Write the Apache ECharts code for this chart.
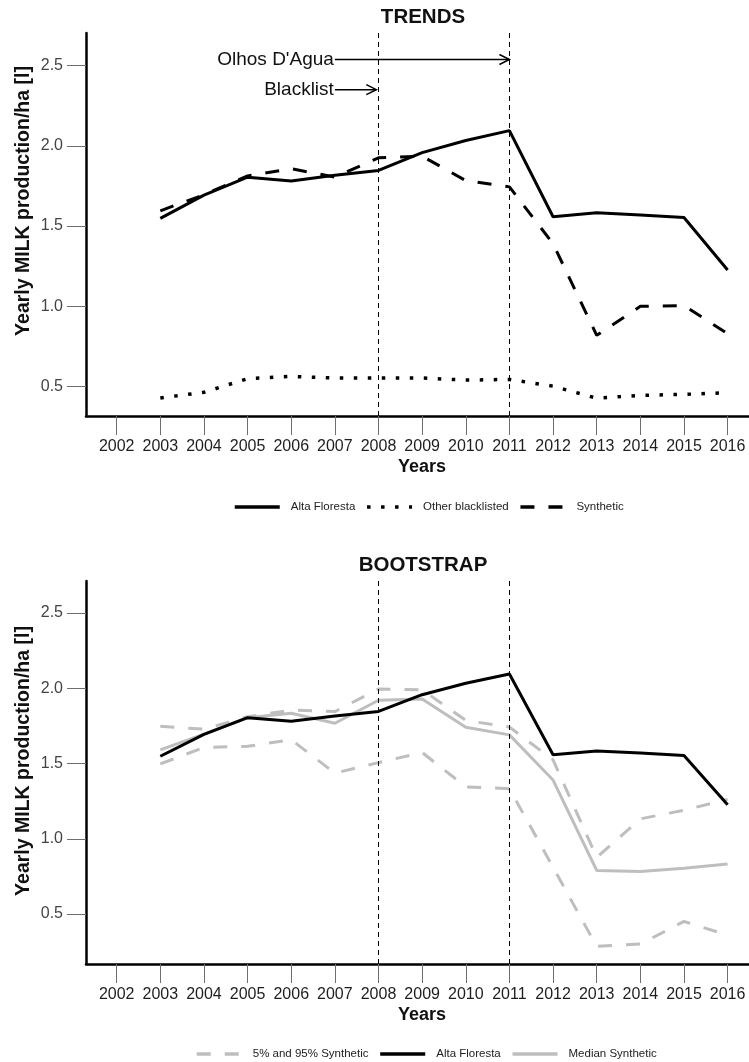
<!DOCTYPE html>
<html>
<head>
<meta charset="utf-8">
<script src="https://cdn.jsdelivr.net/npm/echarts@6/dist/echarts.min.js"></script>
<style>
  html, body { margin: 0; padding: 0; background: #fff; }
  #chart { width: 749px; height: 1062px; }
</style>
</head>
<body>
<div id="chart"></div>
<script>
// Observation years and axis ticks
const years = [2003, 2004, 2005, 2006, 2007, 2008, 2009, 2010, 2011, 2012, 2013, 2014, 2015, 2016];
const yearTicks = [2002, 2003, 2004, 2005, 2006, 2007, 2008, 2009, 2010, 2011, 2012, 2013, 2014, 2015, 2016];
const valueTicks = [0.5, 1.0, 1.5, 2.0, 2.5];

// Yearly milk production per hectare
const altaFloresta     = [1.548, 1.693, 1.804, 1.780, 1.816, 1.846, 1.957, 2.033, 2.094, 1.558, 1.583, 1.569, 1.553, 1.226];
const otherBlacklisted = [0.430, 0.465, 0.550, 0.564, 0.554, 0.554, 0.554, 0.541, 0.545, 0.503, 0.428, 0.446, 0.452, 0.462];
const synthetic        = [1.595, 1.695, 1.812, 1.857, 1.805, 1.925, 1.935, 1.783, 1.744, 1.390, 0.820, 1.000, 1.005, 0.830];

// Bootstrap of the synthetic control
const medianSynthetic  = [1.590, 1.695, 1.804, 1.834, 1.767, 1.920, 1.928, 1.741, 1.690, 1.390, 0.790, 0.783, 0.805, 0.832];
const synthetic95      = [1.747, 1.728, 1.810, 1.855, 1.845, 1.995, 1.990, 1.786, 1.742, 1.524, 0.877, 1.132, 1.190, 1.262];
const synthetic5       = [1.497, 1.607, 1.614, 1.658, 1.436, 1.506, 1.573, 1.345, 1.333, 0.810, 0.285, 0.301, 0.451, 0.360];

// Policy events marked on the timeline
const eventYears = [2008, 2011];

const FONT = '"Liberation Sans", Arial, Helvetica, sans-serif';
const GREY = '#bebebe';

const pairs = vals => years.map((y, i) => [y, vals[i]]);

function xAxisFor(gridIndex) {
  return {
    type: 'value', gridIndex: gridIndex, min: 2001.297, max: 2016.49,
    axisLine: { show: true, onZero: false, lineStyle: { color: '#000', width: 2.5 } },
    axisTick: { show: true, length: 19, customValues: yearTicks, lineStyle: { color: '#6e6e6e', width: 1 } },
    axisLabel: { customValues: yearTicks, margin: 23, fontSize: 16, color: '#1e1e1e', fontFamily: FONT,
                 formatter: v => String(Math.round(v)) },
    splitLine: { show: false }
  };
}
function yAxisFor(gridIndex, min, max) {
  return {
    type: 'value', gridIndex: gridIndex, min: min, max: max,
    axisLine: { show: true, onZero: false, lineStyle: { color: '#000', width: 2.5 } },
    axisTick: { show: true, length: 19, customValues: valueTicks, lineStyle: { color: '#6e6e6e', width: 1 } },
    axisLabel: { customValues: valueTicks, margin: 23, fontSize: 16, color: '#444', fontFamily: FONT,
                 formatter: v => v.toFixed(1) },
    splitLine: { show: false }
  };
}

const eventLines = {
  symbol: ['none', 'none'], silent: true, animation: false,
  label: { show: false },
  lineStyle: { color: '#000', width: 1, type: [5, 4] },
  emphasis: { disabled: true },
  data: eventYears.map(y => ({ xAxis: y }))
};

function lineSeries(name, vals, gridIndex, color, width, dash, extra) {
  return Object.assign({
    name: name, type: 'line', xAxisIndex: gridIndex, yAxisIndex: gridIndex,
    data: pairs(vals), symbol: 'none', showSymbol: false, animation: false,
    emphasis: { disabled: true },
    lineStyle: { color: color, width: width, type: dash || 'solid', cap: 'butt' },
    itemStyle: { color: color }
  }, extra || {});
}

// Legend keys show only the line stroke of each series
const legendBase = {
  orient: 'horizontal', itemWidth: 45, itemHeight: 14, itemGap: 10, padding: 0,
  itemStyle: { opacity: 0 },
  lineStyle: { width: 3.5 },
  textStyle: { fontSize: 11.5, color: '#222', fontFamily: FONT, padding: [0, 0, 0, 6] },
  selectedMode: false
};

const option = {
  backgroundColor: '#fff',
  animation: false,
  grid: [
    { left: 86, right: 0, top: 33, height: 383 },
    { left: 86, right: 0, top: 581, height: 383 }
  ],
  xAxis: [xAxisFor(0), xAxisFor(1)],
  yAxis: [yAxisFor(0, 0.3174, 2.702), yAxisFor(1, 0.1684, 2.712)],
  legend: [
    Object.assign({ left: 233, top: 501, data: ['Alta Floresta', 'Other blacklisted', 'Synthetic'] }, legendBase),
    Object.assign({ left: 195, top: 1048, data: ['5% and 95% Synthetic', 'Alta Floresta', 'Median Synthetic'] }, legendBase)
  ],
  series: [
    lineSeries('Alta Floresta', altaFloresta, 0, '#000', 3, 'solid', { markLine: eventLines }),
    lineSeries('Other blacklisted', otherBlacklisted, 0, '#000', 3.5, [3.5, 10.5]),
    lineSeries('Synthetic', synthetic, 0, '#000', 3, [14, 14]),
    lineSeries('5% and 95% Synthetic', synthetic5, 1, GREY, 3, [14, 14], { markLine: eventLines }),
    lineSeries('5% and 95% Synthetic', synthetic95, 1, GREY, 3, [14, 14]),
    lineSeries('Median Synthetic', medianSynthetic, 1, GREY, 3, 'solid'),
    lineSeries('Alta Floresta', altaFloresta, 1, '#000', 3, 'solid')
  ]
};

const chart = echarts.init(document.getElementById('chart'), null, { renderer: 'canvas' });
chart.setOption(option);

// Titles, axis names and the event annotations
const toPx = (x, y) => chart.convertToPixel({ gridIndex: 0 }, [x, y]);
function label(text, x, y, size, bold, align, rotation) {
  return {
    type: 'text', x: x, y: y, rotation: rotation || 0, silent: true,
    style: { text: text, fill: '#111', fontSize: size, fontWeight: bold ? 'bold' : 'normal',
             fontFamily: FONT, textAlign: align || 'center', textVerticalAlign: 'middle' }
  };
}
function eventArrow(text, fromYear, toYear, value) {
  const a = toPx(fromYear, value), b = toPx(toYear, value);
  return [
    label(text, a[0] - 1, a[1], 19, false, 'right'),
    { type: 'line', silent: true, shape: { x1: a[0], y1: a[1], x2: b[0], y2: b[1] },
      style: { stroke: '#000', lineWidth: 1.5 } },
    { type: 'polyline', silent: true,
      shape: { points: [[b[0] - 10, b[1] - 5], [b[0], b[1]], [b[0] - 10, b[1] + 5]] },
      style: { stroke: '#000', lineWidth: 1.5, fill: null } }
  ];
}

const graphics = [
  label('TRENDS', 423, 17, 20.5, true),
  label('BOOTSTRAP', 423, 565, 20.5, true),
  label('Years', 422, 467, 18, true),
  label('Years', 422, 1015, 18, true),
  label('Yearly MILK production/ha [l]', 24, 201, 19.5, true, 'center', Math.PI / 2),
  label('Yearly MILK production/ha [l]', 24, 761, 19.5, true, 'center', Math.PI / 2)
].concat(
  eventArrow("Olhos D'Agua", 2007.0, 2011, 2.537),
  eventArrow('Blacklist', 2007.0, 2007.95, 2.349)
);

chart.setOption({ graphic: { elements: graphics } });
</script>
</body>
</html>
